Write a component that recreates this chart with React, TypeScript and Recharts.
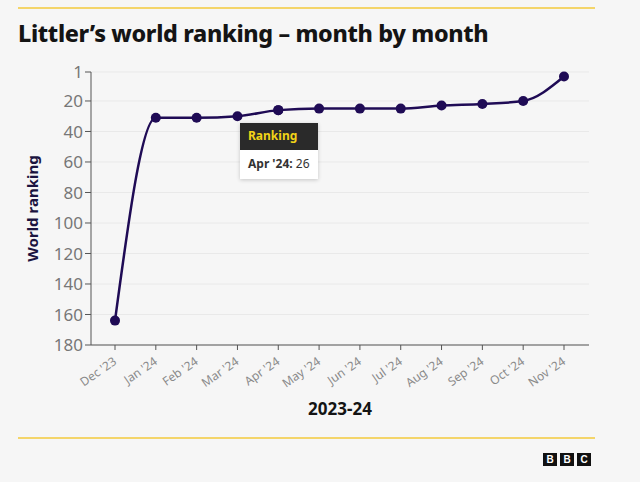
import React from 'react';
import { LineChart, Line, XAxis, YAxis, CartesianGrid, Tooltip, Label } from 'recharts';

const months = ["Dec '23", "Jan '24", "Feb '24", "Mar '24", "Apr '24", "May '24", "Jun '24", "Jul '24", "Aug '24", "Sep '24", "Oct '24", "Nov '24"];
const ranking = [164, 31, 31, 30, 26, 25, 25, 25, 23, 22, 20, 4];
const yTicks = [1, 20, 40, 60, 80, 100, 120, 140, 160, 180];

const data = months.map((m, i) => ({ name: m, Ranking: ranking[i] }));

const FONT = '"Noto Sans", "Open Sans", sans-serif';
const LINE = '#1f0b55';

const MonthTick = ({ x, y, payload }: any) => (
  <g transform={`translate(${x},${y + 8})`}>
    <text textAnchor="end" transform="rotate(-35)" fontSize={12} fill="#8a8a8a" fontFamily={FONT} dy={4}>
      {payload.value}
    </text>
  </g>
);

const RankTooltip = ({ active, payload, label }: any) => {
  if (active && payload && payload.length) {
    return (
      <div style={{ background: '#fff', boxShadow: '0 1px 4px rgba(0,0,0,0.2)', fontFamily: FONT, fontSize: 12 }}>
        <div style={{ background: '#2a2a2a', color: '#f2d418', fontWeight: 700, padding: '4px 8px', height: 19 }}>Ranking</div>
        <div style={{ color: '#333', padding: '5px 8px 7px' }}>
          <b>{label}:</b> {payload[0].value}
        </div>
      </div>
    );
  }
  return null;
};

const App: React.FC = () => {
  return (
    <div style={{ position: 'fixed', left: 0, top: 0, width: 640, height: 482, background: '#f6f6f6', fontFamily: FONT }}>
      <div style={{ position: 'absolute', left: 18, top: 7, width: 577, height: 2, background: '#f4d56a' }} />
      <div style={{ position: 'absolute', left: 18, top: 17, fontSize: 23.3, fontWeight: 800, color: '#141414', letterSpacing: -0.35 }}>
        Littler’s world ranking – month by month
      </div>
      <div style={{ position: 'absolute', left: 0, top: 0 }}>
        <LineChart width={640} height={482} data={data} margin={{ top: 72, right: 51, left: 31, bottom: 67 }}>
          <CartesianGrid vertical={false} stroke="#e9e9e9" />
          <XAxis
            dataKey="name"
            interval={0}
            padding={{ left: 24, right: 25 }}
            height={70}
            stroke="#555"
            tickSize={5}
            tick={<MonthTick />}
          >
            <Label value="2023-24" position="insideBottom" offset={0} fill="#141414" fontSize={17} fontWeight={700} fontFamily={FONT} />
          </XAxis>
          <YAxis
            reversed
            domain={[1, 180]}
            ticks={yTicks}
            interval={0}
            width={60}
            stroke="#555"
            tickSize={6}
            tick={{ fill: '#777', fontSize: 17, fontFamily: FONT }}
          >
            <Label value="World ranking" angle={-90} position="insideLeft" offset={2} fill="#1b1440" fontSize={15} fontWeight={700} fontFamily={FONT} style={{ textAnchor: 'middle' }} />
          </YAxis>
          <Tooltip
            content={<RankTooltip />}
            defaultIndex={4}
            active
            cursor={false}
            position={{ x: 240, y: 123 }}
            isAnimationActive={false}
          />
          <Line
            type="monotone"
            dataKey="Ranking"
            stroke={LINE}
            strokeWidth={2.5}
            dot={{ r: 5, fill: LINE, stroke: LINE, strokeWidth: 0 }}
            activeDot={{ r: 5, fill: LINE, stroke: LINE, strokeWidth: 0 }}
            isAnimationActive={false}
          />
        </LineChart>
      </div>
      <div style={{ position: 'absolute', left: 18, top: 437, width: 577, height: 2, background: '#f4d56a' }} />
      <div style={{ position: 'absolute', left: 543, top: 453, display: 'flex', gap: 3 }}>
        {['B', 'B', 'C'].map((c, i) => (
          <div key={i} style={{ width: 14, height: 13, background: '#111', color: '#fff', fontSize: 10, fontWeight: 700, lineHeight: '13px', textAlign: 'center', fontFamily: 'Arial, "Liberation Sans", sans-serif' }}>
            {c}
          </div>
        ))}
      </div>
    </div>
  );
};

export default App;
